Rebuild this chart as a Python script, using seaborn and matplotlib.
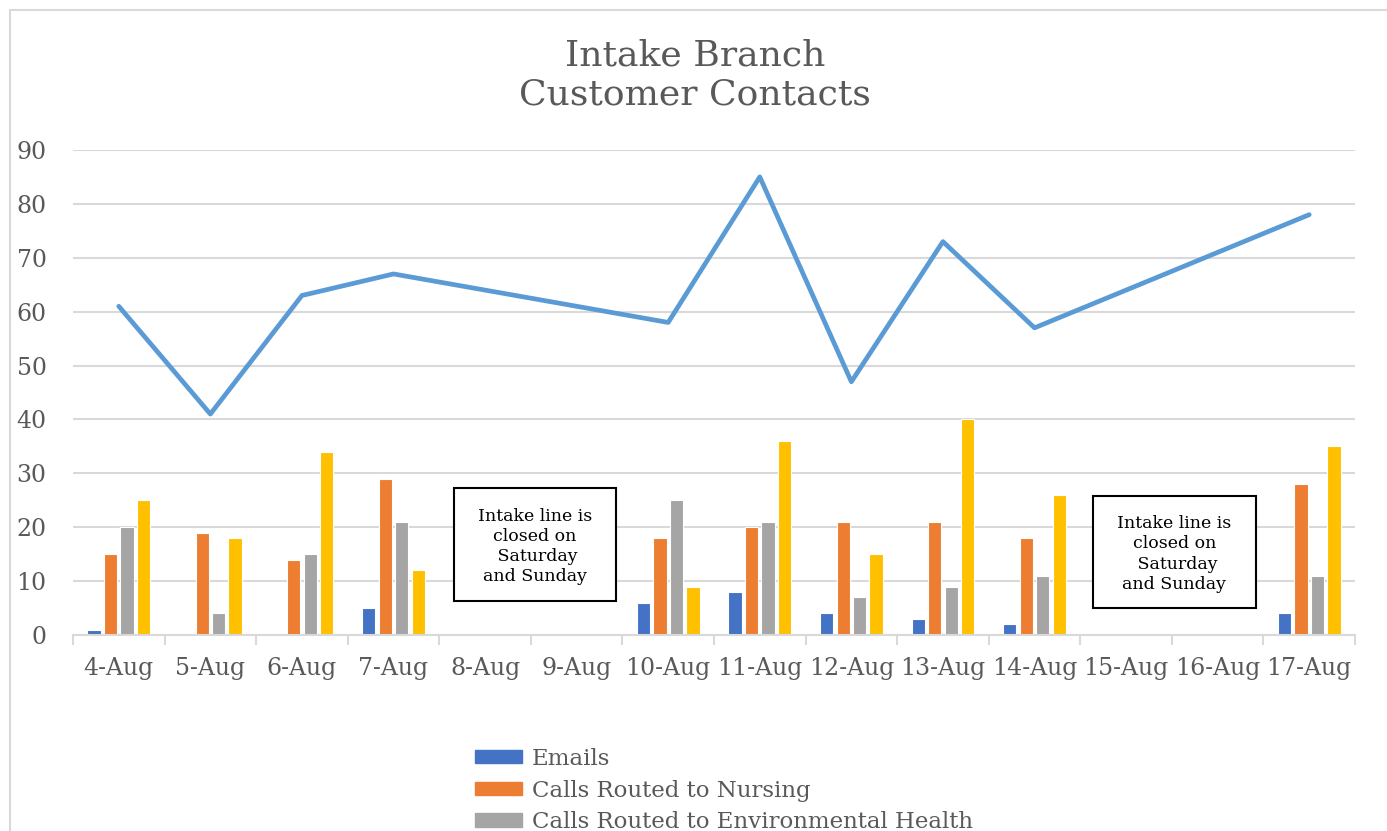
import numpy as np
import pandas as pd
import matplotlib
matplotlib.use("Agg")
import matplotlib.pyplot as plt
import matplotlib.patches as mpatches
import seaborn as sns

days = ["4-Aug", "5-Aug", "6-Aug", "7-Aug", "8-Aug", "9-Aug", "10-Aug",
        "11-Aug", "12-Aug", "13-Aug", "14-Aug", "15-Aug", "16-Aug", "17-Aug"]
nan = np.nan
emails = [1, 0, 0, 5, nan, nan, 6, 8, 4, 3, 2, nan, nan, 4]
nursing = [15, 19, 14, 29, nan, nan, 18, 20, 21, 21, 18, nan, nan, 28]
env_health = [20, 4, 15, 21, nan, nan, 25, 21, 7, 9, 11, nan, nan, 11]
other_calls = [25, 18, 34, 12, nan, nan, 9, 36, 15, 40, 26, nan, nan, 35]
total = [61, 41, 63, 67, nan, nan, 58, 85, 47, 73, 57, nan, nan, 78]

series_names = ["Emails", "Calls Routed to Nursing",
                "Calls Routed to Environmental Health", "Other Calls"]
colors = ["#4472C4", "#ED7D31", "#A5A5A5", "#FFC000"]
line_color = "#5B9BD5"
text_color = "#595959"

sns.set_theme(style="white")
plt.rcParams["font.family"] = ["DejaVu Serif"]

rows = []
for name, vals in zip(series_names, [emails, nursing, env_health, other_calls]):
    for d, v in zip(days, vals):
        rows.append({"day": d, "series": name, "value": v})
df = pd.DataFrame(rows).dropna()

W, H = 1387, 831
fig = plt.figure(figsize=(W / 100, H / 100), dpi=100)
ax = fig.add_axes([73 / W, 1 - 635 / H, (1355 - 73) / W, (635 - 150) / H])

sns.barplot(data=df, x="day", y="value", hue="series", order=days,
            hue_order=series_names, palette=colors, saturation=1, width=0.72, gap=0.2,
            edgecolor="white", linewidth=0.8, ax=ax, legend=False, errorbar=None)

line_df = pd.DataFrame({"x": np.arange(len(days)), "y": total}).dropna()
sns.lineplot(data=line_df, x="x", y="y", color=line_color, linewidth=3.4,
             ax=ax, legend=False, solid_joinstyle="round", solid_capstyle="round", zorder=5)

ax.set_xlim(-0.5, len(days) - 0.5)
ax.set_ylim(0, 90)
ax.set_yticks(np.arange(0, 91, 10))
ax.yaxis.grid(True, color="#D9D9D9", linewidth=1.5)
ax.set_axisbelow(True)
ax.set_xlabel("")
ax.set_ylabel("")
for s in ["top", "right", "left"]:
    ax.spines[s].set_visible(False)
ax.spines["bottom"].set_color("#D9D9D9")
ax.spines["bottom"].set_linewidth(1.5)
ax.set_xticks(np.arange(len(days)))
ax.set_xticklabels(days)
ax.set_xticks(np.arange(-0.5, len(days)), minor=True)
ax.tick_params(axis="x", which="major", length=0, pad=16, labelsize=17, labelcolor=text_color)
ax.tick_params(axis="x", which="minor", length=7, width=1.5, color="#D9D9D9", bottom=True)
ax.tick_params(axis="y", length=0, pad=19, labelsize=17, labelcolor=text_color)

# Title
fig.text(695 / W, 1 - 75 / H, "Intake Branch\nCustomer Contacts", ha="center",
         va="center", fontsize=26, color=text_color, linespacing=1.15)

# Annotation boxes
note = "Intake line is\nclosed on\n Saturday\nand Sunday"
for (x0, y0, x1, y1) in [(454, 488, 616, 601), (1093, 496, 1256, 608)]:
    fig.patches.append(mpatches.Rectangle((x0 / W, 1 - y1 / H), (x1 - x0) / W, (y1 - y0) / H,
                                          transform=fig.transFigure, facecolor="white",
                                          edgecolor="black", linewidth=1.5, zorder=10))
    fig.text((x0 + x1) / 2 / W, 1 - ((y0 + y1) / 2 + 2) / H, note, ha="center", va="center",
             fontsize=12.5, color="black", linespacing=1.25, zorder=11)

# Legend
handles = [mpatches.Patch(color=c, label=n) for c, n in zip(colors[:3], series_names[:3])]
fig.legend(handles=handles, loc="upper left", bbox_to_anchor=(468 / W, 1 - 741 / H),
           frameon=False, fontsize=16.5, handlelength=2.05, handleheight=0.5,
           handletextpad=0.45, labelspacing=0.42, labelcolor=text_color,
           borderaxespad=0, borderpad=0.3)

# Outer chart frame
fig.patches.append(mpatches.Rectangle((10 / W, -0.1), 1.2, (1 - 10 / H) + 0.1,
                                      transform=fig.transFigure, fill=False,
                                      edgecolor="#D9D9D9", linewidth=1.5))

fig.savefig("out.png", dpi=100)
